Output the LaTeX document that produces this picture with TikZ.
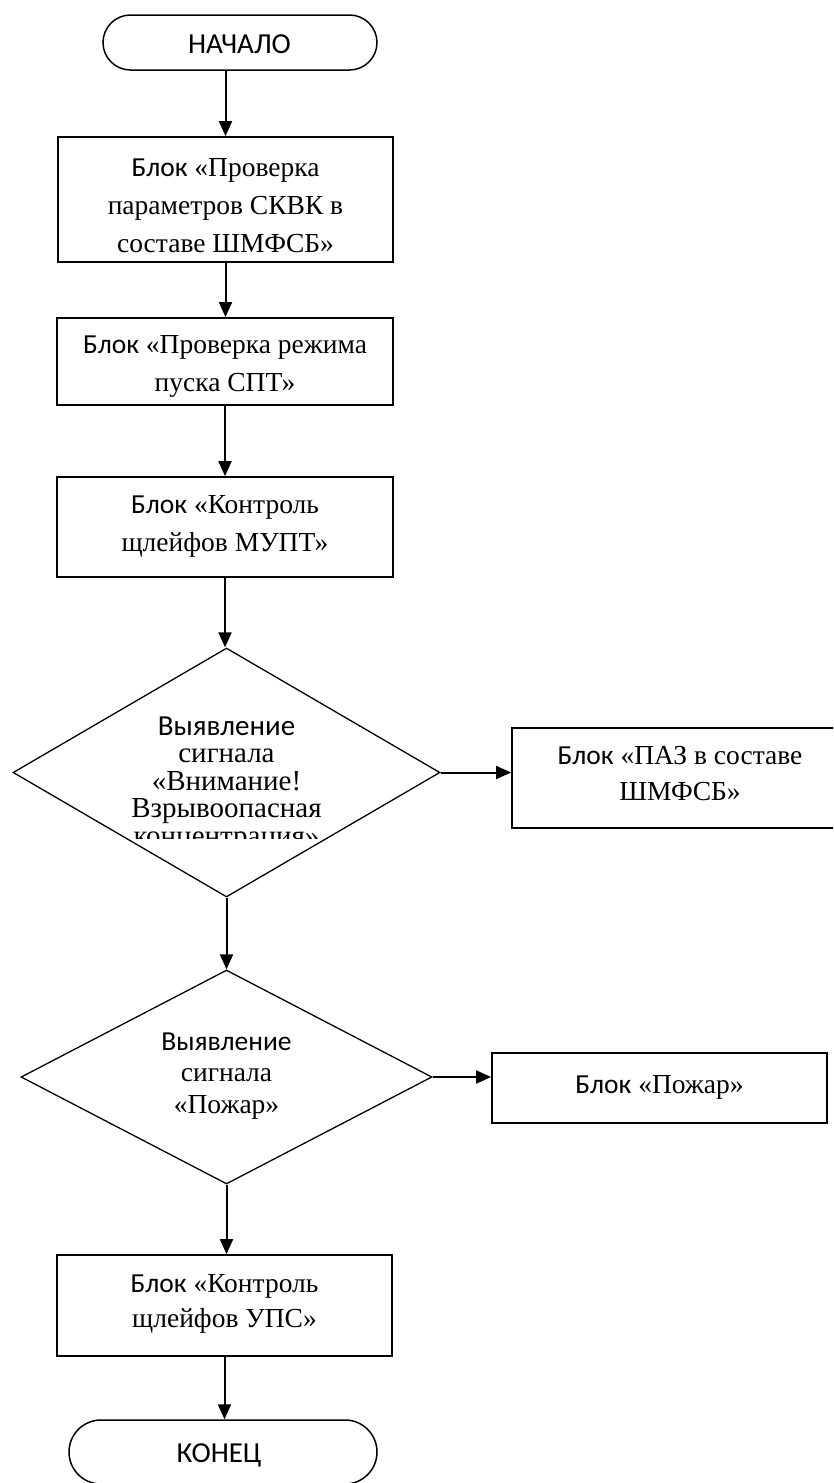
\documentclass[tikz,border=0pt]{standalone}
\usepackage{fontspec}
\setmainfont{Liberation Serif}
\newfontfamily\sansc{Carlito}
\usetikzlibrary{arrows.meta,shapes.geometric}
\begin{document}
\begin{tikzpicture}[x=1pt,y=-1pt,
  box/.style={draw, line width=1.8pt, rectangle, inner sep=0pt},
  term/.style={draw, line width=1.5pt, rectangle, inner sep=0pt},
  dia/.style={draw, line width=1.3pt, diamond, inner sep=0pt},
  arr/.style={line width=2pt, -{Triangle[length=15pt,width=13pt]}},
  txt/.style={align=center, inner sep=0pt, anchor=north, font=\fontsize{27.5}{38}\selectfont},
]
\useasboundingbox (0,0) rectangle (833,1483);
\clip (0,0) rectangle (833,1483);

% shapes
\node[term, rounded corners=27.5pt, minimum width=274pt, minimum height=55pt] (start) at (240,42.5) {};
\node[box, minimum width=335pt, minimum height=125pt] (b1) at (225.5,199.5) {};
\node[box, minimum width=336pt, minimum height=87pt] (b2) at (225,361.5) {};
\node[box, minimum width=336pt, minimum height=100pt] (b3) at (225,527) {};
\node[dia, aspect=1.715, minimum width=427pt, minimum height=249pt] (d1) at (226.5,772.5) {};
\node[box, minimum width=338pt, minimum height=100pt] (paz) at (681,778) {};
\node[dia, aspect=1.92, minimum width=411pt, minimum height=214pt] (d2) at (226.5,1077) {};
\node[box, minimum width=335pt, minimum height=70pt] (pozhar) at (659.5,1088) {};
\node[box, minimum width=335pt, minimum height=101pt] (b4) at (224.5,1305.5) {};
\node[term, rounded corners=32pt, minimum width=308pt, minimum height=64pt] (end) at (223,1452) {};

% texts
\node[txt, font=\sansc\fontsize{29}{35}\selectfont] (startt) at (239.5,28.5) {\strut НАЧАЛО};
\node[txt] (b1t) at (225.5,149.4) {\strut{\sansc Блок} «Проверка\\параметров СКВК в\\составе ШМФСБ»};
\node[txt] (b2t) at (225,326.4) {\strut{\sansc Блок} «Проверка режима\\пуска СПТ»};
\node[txt] (b3t) at (225,486.4) {\strut{\sansc Блок} «Контроль\\щлейфов МУПТ»};
\begin{scope}
\clip (0,0) rectangle (833,838);
\node[txt, font=\fontsize{29}{27.5}\selectfont] (d1t) at (226.5,715.75) {\strut{\sansc Выявление}\\сигнала\\«Внимание!\\Взрывоопасная\\концентрация»};
\end{scope}
\node[txt, font=\fontsize{27.5}{36}\selectfont] (pazt) at (680,738.8) {\strut{\sansc Блок} «ПАЗ в составе\\ШМФСБ»};
\node[txt, font=\fontsize{27.5}{31.5}\selectfont] (d2t) at (226.5,1027.95) {\strut{\sansc Выявление}\\сигнала\\«Пожар»};
\node[txt] (pozhart) at (659.5,1066.4) {\strut{\sansc Блок} «Пожар»};
\node[txt, font=\fontsize{27.5}{35}\selectfont] (b4t) at (224.5,1267.5) {\strut{\sansc Блок} «Контроль\\щлейфов УПС»};
\node[txt, font=\sansc\fontsize{29}{35}\selectfont] (endt) at (219,1437.5) {\strut КОНЕЦ};

% connectors
\draw[arr] (start.south -| b1.north) -- (b1.north);
\draw[arr] (b1.south) -- (b1.south |- b2.north);
\draw[arr] (b2.south) -- (b2.south |- b3.north);
\draw[arr] (b3.south) -- (b3.south |- d1.north);
\draw[arr] (d1.east) -- (d1.east -| paz.west);
\draw[arr] (d1.south) -- (d2.north);
\draw[arr] (d2.east) -- (d2.east -| pozhar.west);
\draw[arr] (d2.south) -- (d2.south |- b4.north);
\draw[arr] (b4.south) -- (b4.south |- end.north);
\end{tikzpicture}
\end{document}
